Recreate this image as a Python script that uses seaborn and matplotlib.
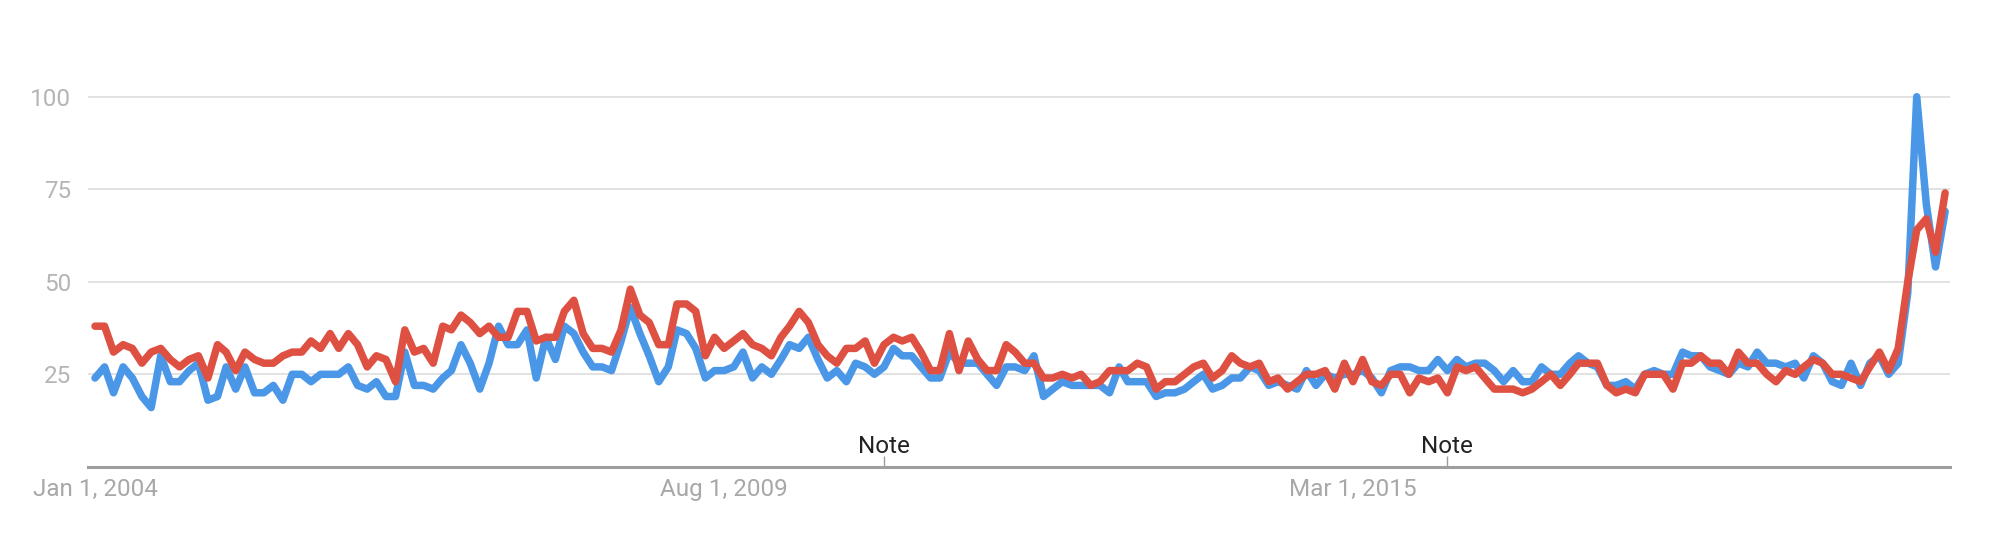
import matplotlib
matplotlib.use('Agg')
import matplotlib.pyplot as plt
import seaborn as sns
import pandas as pd

months = pd.date_range('2004-01-01', periods=198, freq='MS')

blue_values = [24, 27, 20, 27, 24, 19, 16, 30, 23, 23,
               26, 28, 18, 19, 27, 21, 27, 20, 20, 22,
               18, 25, 25, 23, 25, 25, 25, 27, 22, 21,
               23, 19, 19, 31, 22, 22, 21, 24, 26, 33,
               28, 21, 28, 38, 33, 33, 37, 24, 35, 29,
               38, 36, 31, 27, 27, 26, 34, 43, 36, 30,
               23, 27, 37, 36, 32, 24, 26, 26, 27, 31,
               24, 27, 25, 29, 33, 32, 35, 29, 24, 26,
               23, 28, 27, 25, 27, 32, 30, 30, 27, 24,
               24, 31, 28, 28, 28, 25, 22, 27, 27, 26,
               30, 19, 21, 23, 22, 22, 22, 22, 20, 27,
               23, 23, 23, 19, 20, 20, 21, 23, 25, 21,
               22, 24, 24, 27, 26, 22, 23, 22, 21, 26,
               22, 25, 24, 25, 25, 26, 24, 20, 26, 27,
               27, 26, 26, 29, 26, 29, 27, 28, 28, 26,
               23, 26, 23, 23, 27, 25, 25, 28, 30, 28,
               27, 22, 22, 23, 21, 25, 26, 25, 25, 31,
               30, 30, 27, 26, 25, 28, 27, 31, 28, 28,
               27, 28, 24, 30, 28, 23, 22, 28, 22, 28,
               30, 25, 28, 47, 100, 71, 54, 69]

red_values = [38, 38, 31, 33, 32, 28, 31, 32, 29, 27,
              29, 30, 24, 33, 31, 26, 31, 29, 28, 28,
              30, 31, 31, 34, 32, 36, 32, 36, 33, 27,
              30, 29, 23, 37, 31, 32, 28, 38, 37, 41,
              39, 36, 38, 35, 35, 42, 42, 34, 35, 35,
              42, 45, 36, 32, 32, 31, 37, 48, 41, 39,
              33, 33, 44, 44, 42, 30, 35, 32, 34, 36,
              33, 32, 30, 35, 38, 42, 39, 33, 30, 28,
              32, 32, 34, 28, 33, 35, 34, 35, 31, 26,
              26, 36, 26, 34, 29, 26, 26, 33, 31, 28,
              28, 24, 24, 25, 24, 25, 22, 23, 26, 26,
              26, 28, 27, 21, 23, 23, 25, 27, 28, 24,
              26, 30, 28, 27, 28, 23, 24, 21, 23, 25,
              25, 26, 21, 28, 23, 29, 23, 22, 25, 25,
              20, 24, 23, 24, 20, 27, 26, 27, 24, 21,
              21, 21, 20, 21, 23, 25, 22, 25, 28, 28,
              28, 22, 20, 21, 20, 25, 25, 25, 21, 28,
              28, 30, 28, 28, 25, 31, 28, 28, 25, 23,
              26, 25, 27, 29, 28, 25, 25, 24, 23, 27,
              31, 26, 32, 50, 64, 67, 58, 74]

tick_dates = ['2004-01-01', '2009-08-01', '2015-03-01']
tick_labels = ['Jan 1, 2004', 'Aug 1, 2009', 'Mar 1, 2015']
note_dates = ['2011-01-01', '2016-01-01']

df = pd.DataFrame({'month': list(months) * 2,
                   'value': blue_values + red_values,
                   'term': ['blue'] * len(months) + ['red'] * len(months)})

sns.set_style('white')
plt.rcParams['font.family'] = ['Roboto', 'DejaVu Sans']

fig = plt.figure(figsize=(19.98, 5.4), dpi=100)
ax = fig.add_axes([0.044, 0.1355, 0.932, 0.828])

sns.lineplot(data=df, x='month', y='value', hue='term',
             palette={'blue': '#4a97e8', 'red': '#de5142'},
             linewidth=5.4, legend=False, ax=ax)

ax.set_ylim(0, 120.8)
ax.set_xlim(months[0] - pd.Timedelta(days=23), months[-1] + pd.Timedelta(days=16))

ax.set_yticks([25, 50, 75, 100])
ax.yaxis.grid(True, color='#dddddd', linewidth=1.2)
ax.set_axisbelow(True)
ax.tick_params(axis='y', length=0, pad=12, labelsize=17.5, labelcolor='#b5b5b5')

ax.set_xticks(pd.to_datetime(tick_dates))
ax.set_xticklabels(tick_labels)
ax.tick_params(axis='x', length=0, pad=8, labelsize=17.5, labelcolor='#a8a8a8')

for side in ('top', 'right', 'left'):
    ax.spines[side].set_visible(False)
ax.spines['bottom'].set_color('#9e9e9e')
ax.spines['bottom'].set_linewidth(2.2)

for d in pd.to_datetime(note_dates):
    ax.vlines(d, 0, 2.8, color='#9e9e9e', linewidth=1)
    ax.text(d, 5.4, 'Note', ha='center', va='center', fontsize=17.5, color='#222222')

ax.set_xlabel('')
ax.set_ylabel('')

plt.savefig('out.png', dpi=100)
